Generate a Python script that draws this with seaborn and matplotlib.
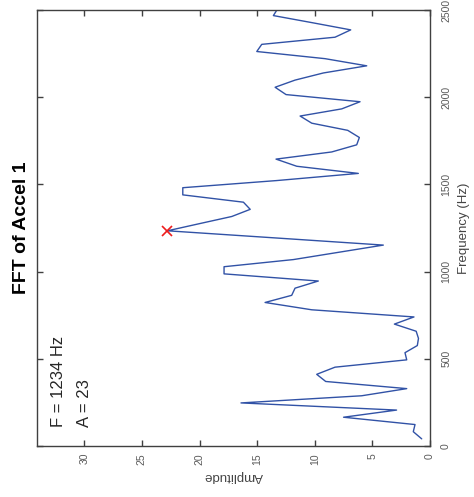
import matplotlib
matplotlib.use("Agg")
import matplotlib.pyplot as plt
import seaborn as sns
import pandas as pd

# FFT spectrum of accelerometer 1 (figure is drawn rotated 90 deg CCW)
freq_hz = [41, 82, 123, 165, 206, 247, 288, 329, 370, 411,
           452, 494, 535, 576, 617, 658, 699, 740, 781, 823,
           864, 905, 946, 987, 1028, 1069, 1111, 1152, 1193, 1234,
           1275, 1316, 1357, 1398, 1440, 1481, 1522, 1563, 1604, 1645,
           1686, 1727, 1769, 1810, 1851, 1892, 1933, 1974, 2015, 2057,
           2098, 2139, 2180, 2221, 2262, 2303, 2344, 2386, 2427, 2468,
           2509]
amplitude = [0.72, 1.45, 1.30, 7.5, 2.9, 16.4, 5.93, 2.02, 9.05, 9.83,
             8.24, 2.02, 2.17, 1.1, 1.0, 1.2, 3.09, 1.39, 10.26, 14.31,
             12.0, 11.71, 9.69, 17.87, 17.87, 11.85, 7.9, 4.05, 13.4, 22.78,
             20.0, 17.2, 15.6, 16.19, 21.45, 21.45, 13.3, 6.22, 11.56, 13.36,
             8.53, 6.36, 6.13, 7.14, 10.26, 11.27, 7.66, 6.07, 12.49, 13.44,
             11.71, 9.25, 5.49, 9.11, 15.03, 14.6, 8.24, 6.88, 10.2, 13.59,
             13.2]
peak_freq = [1234]
peak_amp = [22.78]
amp_ticks = [0, 5, 10, 15, 20, 25, 30]
freq_ticks = [0, 500, 1000, 1500, 2000, 2500]

sns.set_style("white")
plt.rcParams['font.family'] = ['Liberation Sans', 'DejaVu Sans']

df = pd.DataFrame({"freq": freq_hz, "amp": amplitude})

fig = plt.figure(figsize=(4.74, 4.97), dpi=100)
ax = fig.add_axes([37 / 474, 1 - 446 / 497, (430 - 37) / 474, (446 - 10) / 497])

sns.lineplot(data=df, x="amp", y="freq", sort=False, estimator=None,
             color="#3152A6", linewidth=1.0, ax=ax)
ax.plot(peak_amp, peak_freq, linestyle="none", marker="x", color="#EE1C1C",
        markersize=7, markeredgewidth=1.2)

ax.set_xlim(34.1, 0)
ax.set_ylim(0, 2500)

edge = "#404040"
for sp in ax.spines.values():
    sp.set_visible(True)
    sp.set_color(edge)
    sp.set_linewidth(1.0)

ax.set_xticks(amp_ticks)
ax.set_xticklabels([str(t) for t in amp_ticks], rotation=90)
ax.set_yticks(freq_ticks)
ax.set_yticklabels([str(t) for t in freq_ticks], rotation=90, va="center")
ax.yaxis.tick_right()
ax.tick_params(axis="both", which="both", direction="in", length=4, width=1.0,
               color=edge, labelsize=7.5, labelcolor="#5a5a5a",
               top=True, bottom=True, left=True, right=True,
               labelleft=False, labelright=True, labelbottom=True, labeltop=False)
ax.tick_params(axis="x", pad=5)
ax.tick_params(axis="y", pad=8)

ax.set_xlabel("Amplitude", rotation=180, fontsize=9.5, color="#444444", labelpad=4)
ax.yaxis.set_label_position("right")
ax.set_ylabel("Frequency (Hz)", rotation=90, fontsize=9.5, color="#444444", labelpad=5)

fig.text(22 / 474, 1 - 228 / 497, "FFT of Accel 1", rotation=90, fontsize=14,
         fontweight="bold", ha="center", va="center", color="black")

ax.text(32.2, 109, "F = 1234 Hz", rotation=90, fontsize=12, ha="center", va="bottom")
ax.text(30.0, 109, "A = 23", rotation=90, fontsize=12, ha="center", va="bottom")

fig.savefig("out.png", dpi=100)
